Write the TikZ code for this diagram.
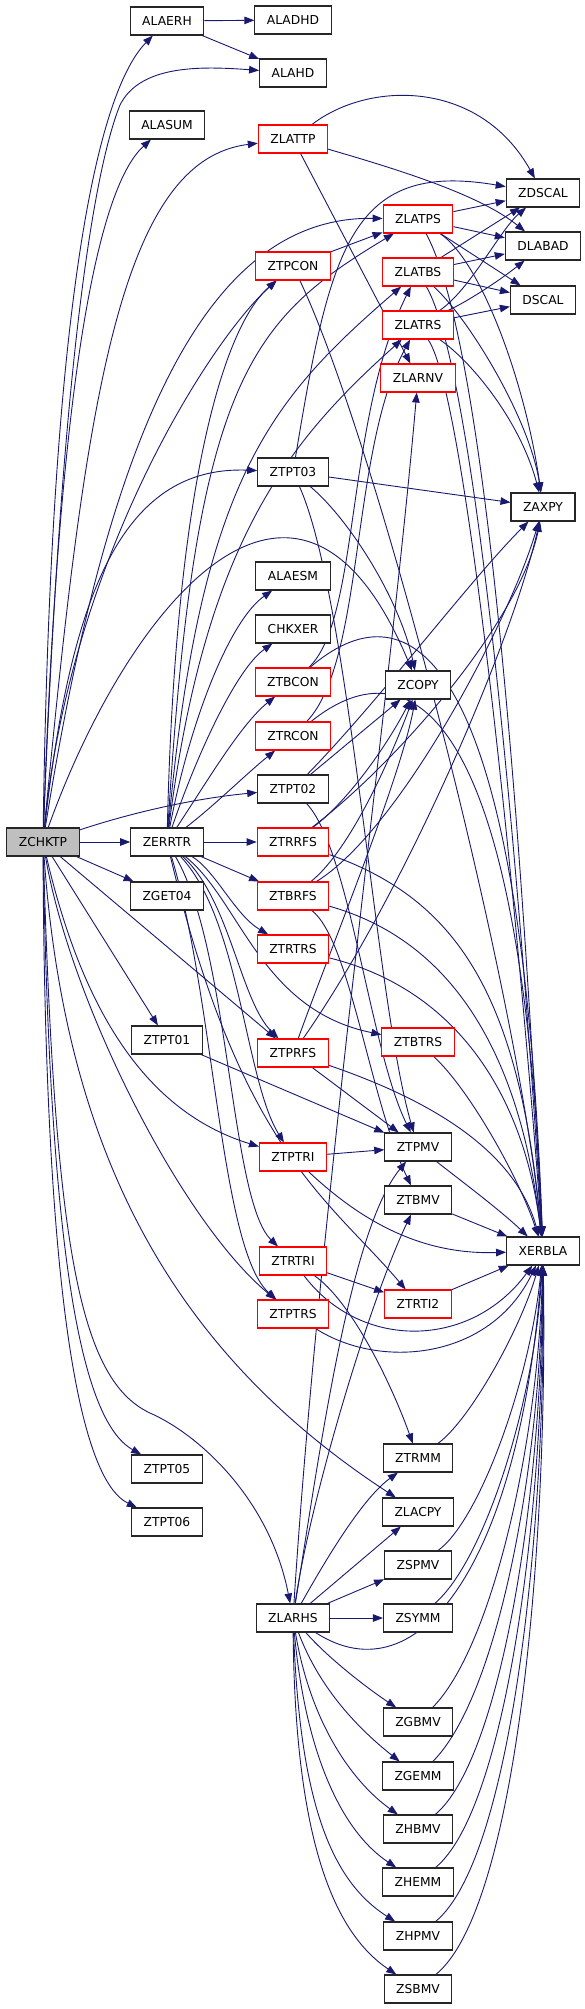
\documentclass[tikz,border=0pt]{standalone}
\usepackage{fontspec}
\setmainfont{DejaVu Sans}
\usetikzlibrary{arrows.meta,backgrounds}
\definecolor{edgec}{HTML}{191970}
\tikzset{
  bx/.style={draw=black!85, line width=1.1pt, fill=white, minimum height=28pt, inner xsep=12pt, inner ysep=0pt, font=\fontsize{12.3}{14}\selectfont},
  rbx/.style={bx, draw=red},
  e/.style={draw=edgec, line width=0.9pt, -{Triangle[length=10pt,width=7.5pt]}},
}
\begin{document}
\begin{tikzpicture}[x=1pt,y=-1pt]
\useasboundingbox (0,0) rectangle (584,2009);
% column 1
\node[bx, fill=gray!50] (ZCHKTP) at (43,842) {ZCHKTP};
% column 2
\node[bx] (ALAERH) at (167,21) {ALAERH};
\node[bx] (ALASUM) at (167,125) {ALASUM};
\node[bx] (ZERRTR) at (167,842) {ZERRTR};
\node[bx] (ZGET04) at (167,896) {ZGET04};
\node[bx] (ZTPT01) at (167,1040) {ZTPT01};
\node[bx] (ZTPT05) at (167,1469) {ZTPT05};
\node[bx] (ZTPT06) at (167,1522) {ZTPT06};
% column 3
\node[bx] (ALADHD) at (293,20) {ALADHD};
\node[bx] (ALAHD) at (293,73) {ALAHD};
\node[rbx] (ZLATTP) at (293,139) {ZLATTP};
\node[rbx] (ZTPCON) at (293,266) {ZTPCON};
\node[bx] (ZTPT03) at (293,472) {ZTPT03};
\node[bx] (ALAESM) at (293,576) {ALAESM};
\node[bx] (CHKXER) at (293,629) {CHKXER};
\node[rbx] (ZTBCON) at (293,682) {ZTBCON};
\node[rbx] (ZTRCON) at (293,736) {ZTRCON};
\node[bx] (ZTPT02) at (293,789) {ZTPT02};
\node[rbx] (ZTRRFS) at (293,842) {ZTRRFS};
\node[rbx] (ZTBRFS) at (293,896) {ZTBRFS};
\node[rbx] (ZTRTRS) at (293,949) {ZTRTRS};
\node[rbx] (ZTPRFS) at (293,1053) {ZTPRFS};
\node[rbx] (ZTPTRI) at (293,1157) {ZTPTRI};
\node[rbx] (ZTRTRI) at (293,1261) {ZTRTRI};
\node[rbx] (ZTPTRS) at (293,1314) {ZTPTRS};
\node[bx] (ZLARHS) at (293,1618) {ZLARHS};
% column 4
\node[rbx] (ZLATPS) at (418,219) {ZLATPS};
\node[rbx] (ZLATBS) at (418,272) {ZLATBS};
\node[rbx] (ZLATRS) at (418,325) {ZLATRS};
\node[rbx] (ZLARNV) at (418,378) {ZLARNV};
\node[bx] (ZCOPY) at (418,685) {ZCOPY};
\node[rbx] (ZTBTRS) at (418,1042) {ZTBTRS};
\node[bx] (ZTPMV) at (418,1147) {ZTPMV};
\node[bx] (ZTBMV) at (418,1200) {ZTBMV};
\node[rbx] (ZTRTI2) at (418,1304) {ZTRTI2};
\node[bx] (ZTRMM) at (418,1458) {ZTRMM};
\node[bx] (ZLACPY) at (418,1512) {ZLACPY};
\node[bx] (ZSPMV) at (418,1565) {ZSPMV};
\node[bx] (ZSYMM) at (418,1618) {ZSYMM};
\node[bx] (ZGBMV) at (418,1722) {ZGBMV};
\node[bx] (ZGEMM) at (418,1776) {ZGEMM};
\node[bx] (ZHBMV) at (418,1829) {ZHBMV};
\node[bx] (ZHEMM) at (418,1882) {ZHEMM};
\node[bx] (ZHPMV) at (418,1936) {ZHPMV};
\node[bx] (ZSBMV) at (418,1989) {ZSBMV};
% column 5
\node[bx] (ZDSCAL) at (543,193) {ZDSCAL};
\node[bx] (DLABAD) at (543,246) {DLABAD};
\node[bx] (DSCAL) at (543,300) {DSCAL};
\node[bx] (ZAXPY) at (543,507) {ZAXPY};
\node[bx] (XERBLA) at (543,1251) {XERBLA};

\begin{scope}[on background layer]
% ZCHKTP
\draw[e] (ZCHKTP) .. controls (50,350) and (90,100) .. (ALAERH);
\draw[e] (ZCHKTP) .. controls (60,400) and (90,180) .. (120,105) .. controls (140,65) and (200,66) .. (ALAHD);
\draw[e] (ZCHKTP) .. controls (58,400) and (95,190) .. (ALASUM);
\draw[e] (ZCHKTP) .. controls (85,400) and (120,160) .. (ZLATTP);
\draw[e] (ZCHKTP) .. controls (110,420) and (210,216) .. (ZLATPS);
\draw[e] (ZCHKTP) .. controls (70,560) and (210,340) .. (ZTPCON);
\draw[e] (ZCHKTP) .. controls (70,600) and (120,465) .. (ZTPT03);
\draw[e] (ZCHKTP) .. controls (130,600) and (300,400) .. (ZCOPY);
\draw[e] (ZCHKTP) .. controls (140,810) and (200,798) .. (ZTPT02);
\draw[e] (ZCHKTP) -- (ZERRTR);
\draw[e] (ZCHKTP) -- (ZGET04);
\draw[e] (ZCHKTP) -- (ZTPT01);
\draw[e] (ZCHKTP) -- (ZTPRFS);
\draw[e] (ZCHKTP) .. controls (80,1000) and (140,1110) .. (ZTPTRI);
\draw[e] (ZCHKTP) .. controls (70,1000) and (180,1220) .. (ZTPTRS);
\draw[e] (ZCHKTP) .. controls (65,1150) and (170,1350) .. (ZLACPY);
\draw[e] (ZCHKTP) .. controls (50,1250) and (80,1420) .. (ZTPT05);
\draw[e] (ZCHKTP) .. controls (45,1300) and (80,1480) .. (ZTPT06);
\draw[e] (ZCHKTP) .. controls (55,1250) and (80,1380) .. (150,1413) .. controls (200,1435) and (270,1500) .. (ZLARHS);
% ALAERH
\draw[e] (ALAERH) -- (ALADHD);
\draw[e] (ALAERH) -- (ALAHD);
% ZERRTR
\draw[e] (ZERRTR) .. controls (190,720) and (230,620) .. (ALAESM);
\draw[e] (ZERRTR) .. controls (195,760) and (235,670) .. (CHKXER);
\draw[e] (ZERRTR) .. controls (205,785) and (240,725) .. (ZTBCON);
\draw[e] (ZERRTR) .. controls (215,805) and (245,775) .. (ZTRCON);
\draw[e] (ZERRTR) -- (ZTRRFS);
\draw[e] (ZERRTR) .. controls (175,500) and (220,330) .. (ZTPCON);
\draw[e] (ZERRTR) .. controls (195,380) and (250,320) .. (ZLATPS);
\draw[e] (ZERRTR) .. controls (200,480) and (270,400) .. (ZLATBS);
\draw[e] (ZERRTR) .. controls (205,540) and (290,440) .. (ZLATRS);
\draw[e] (ZERRTR) -- (ZTBRFS);
\draw[e] (ZERRTR) .. controls (215,870) and (235,915) .. (ZTRTRS);
\draw[e] (ZERRTR) .. controls (240,900) and (260,1010) .. (ZTBTRS);
\draw[e] (ZERRTR) .. controls (230,900) and (240,1000) .. (ZTPRFS);
\draw[e] (ZERRTR) .. controls (240,920) and (245,1080) .. (ZTPTRI);
\draw[e] (ZERRTR) .. controls (230,950) and (230,1200) .. (ZTRTRI);
\draw[e] (ZERRTR) .. controls (215,1000) and (220,1250) .. (ZTPTRS);
\draw[e] (ZERRTR) .. controls (240,1150) and (330,1200) .. (ZTRTI2);
% ZLATTP
\draw[e] (ZLATTP) .. controls (370,80) and (480,80) .. (ZDSCAL);
\draw[e] (ZLATTP) .. controls (400,170) and (480,195) .. (DLABAD);
\draw[e] (ZLATTP) -- (ZLARNV);
% ZTPCON, ZTBCON, ZTRCON
\draw[e] (ZTPCON) -- (ZLATPS);
\draw[e] (ZTPCON) .. controls (380,450) and (520,1000) .. (XERBLA);
\draw[e] (ZTBCON) .. controls (360,620) and (345,420) .. (ZLATBS);
\draw[e] (ZTBCON) .. controls (400,590) and (520,620) .. (XERBLA);
\draw[e] (ZTRCON) .. controls (365,660) and (350,450) .. (ZLATRS);
\draw[e] (ZTRCON) .. controls (400,650) and (520,680) .. (XERBLA);
% ZLATPS, ZLATBS, ZLATRS
\draw[e] (ZLATPS) -- (ZDSCAL);
\draw[e] (ZLATPS) -- (DLABAD);
\draw[e] (ZLATPS) -- (DSCAL);
\draw[e] (ZLATPS) .. controls (480,260) and (525,380) .. (ZAXPY);
\draw[e] (ZLATPS) .. controls (490,350) and (525,900) .. (XERBLA);
\draw[e] (ZLATBS) -- (ZDSCAL);
\draw[e] (ZLATBS) -- (DLABAD);
\draw[e] (ZLATBS) -- (DSCAL);
\draw[e] (ZLATBS) .. controls (470,320) and (530,420) .. (ZAXPY);
\draw[e] (ZLATBS) .. controls (480,380) and (525,950) .. (XERBLA);
\draw[e] (ZLATRS) .. controls (470,290) and (500,230) .. (ZDSCAL);
\draw[e] (ZLATRS) .. controls (470,300) and (500,280) .. (DLABAD);
\draw[e] (ZLATRS) -- (DSCAL);
\draw[e] (ZLATRS) .. controls (470,360) and (520,420) .. (ZAXPY);
\draw[e] (ZLATRS) .. controls (470,400) and (525,1000) .. (XERBLA);
% ZTPT03
\draw[e] (ZTPT03) .. controls (330,250) and (350,160) .. (ZDSCAL);
\draw[e] (ZTPT03) -- (ZAXPY);
\draw[e] (ZTPT03) .. controls (350,520) and (400,600) .. (ZCOPY);
\draw[e] (ZTPT03) .. controls (350,600) and (375,1000) .. (ZTPMV);
% ZTPT02
\draw[e] (ZTPT02) -- (ZCOPY);
\draw[e] (ZTPT02) .. controls (380,700) and (470,580) .. (ZAXPY);
\draw[e] (ZTPT02) .. controls (350,850) and (370,1050) .. (ZTPMV);
% ZTRRFS
\draw[e] (ZTRRFS) .. controls (350,800) and (390,740) .. (ZCOPY);
\draw[e] (ZTRRFS) .. controls (400,760) and (520,620) .. (ZAXPY);
\draw[e] (ZTRRFS) .. controls (460,900) and (520,1000) .. (XERBLA);
% ZTBRFS
\draw[e] (ZTBRFS) .. controls (350,850) and (390,760) .. (ZCOPY);
\draw[e] (ZTBRFS) .. controls (400,830) and (510,620) .. (ZAXPY);
\draw[e] (ZTBRFS) .. controls (350,940) and (370,1100) .. (ZTBMV);
\draw[e] (ZTBRFS) .. controls (450,940) and (520,1050) .. (XERBLA);
% ZTRTRS
\draw[e] (ZTRTRS) .. controls (460,990) and (525,1100) .. (XERBLA);
% ZTPRFS
\draw[e] (ZTPRFS) .. controls (330,950) and (400,780) .. (ZCOPY);
\draw[e] (ZTPRFS) .. controls (400,900) and (510,650) .. (ZAXPY);
\draw[e] (ZTPRFS) -- (ZTPMV);
\draw[e] (ZTPRFS) .. controls (430,1100) and (515,1150) .. (XERBLA);
% ZTBTRS
\draw[e] (ZTBTRS) .. controls (470,1090) and (520,1180) .. (XERBLA);
% ZTPT01
\draw[e] (ZTPT01) -- (ZTPMV);
% ZTPTRI, ZTRTRI, ZTRTI2, ZTPTRS
\draw[e] (ZTPTRI) -- (ZTPMV);
\draw[e] (ZTPTRI) .. controls (360,1220) and (420,1255) .. (XERBLA);
\draw[e] (ZTRTRI) -- (ZTRTI2);
\draw[e] (ZTRTRI) .. controls (350,1300) and (390,1380) .. (ZTRMM);
\draw[e] (ZTRTRI) .. controls (360,1350) and (470,1350) .. (XERBLA);
\draw[e] (ZTRTI2) -- (XERBLA);
\draw[e] (ZTPTRS) .. controls (380,1370) and (490,1360) .. (XERBLA);
% ZTPMV, ZTBMV
\draw[e] (ZTPMV) .. controls (460,1180) and (500,1210) .. (XERBLA);
\draw[e] (ZTBMV) -- (XERBLA);
% ZLARHS
\draw[e] (ZLARHS) .. controls (320,1200) and (390,700) .. (ZLARNV);
\draw[e] (ZLARHS) .. controls (320,1450) and (350,1230) .. (ZTPMV);
\draw[e] (ZLARHS) .. controls (310,1500) and (370,1300) .. (ZTBMV);
\draw[e] (ZLARHS) .. controls (320,1570) and (360,1500) .. (ZTRMM);
\draw[e] (ZLARHS) -- (ZLACPY);
\draw[e] (ZLARHS) -- (ZSPMV);
\draw[e] (ZLARHS) -- (ZSYMM);
\draw[e] (ZLARHS) .. controls (420,1700) and (520,1560) .. (XERBLA);
\draw[e] (ZLARHS) .. controls (330,1660) and (370,1690) .. (ZGBMV);
\draw[e] (ZLARHS) .. controls (320,1690) and (360,1730) .. (ZGEMM);
\draw[e] (ZLARHS) .. controls (310,1720) and (350,1780) .. (ZHBMV);
\draw[e] (ZLARHS) .. controls (305,1750) and (340,1830) .. (ZHEMM);
\draw[e] (ZLARHS) .. controls (300,1800) and (330,1880) .. (ZHPMV);
\draw[e] (ZLARHS) .. controls (295,1830) and (330,1930) .. (ZSBMV);
% leaves to XERBLA
\draw[e] (ZTRMM) .. controls (470,1420) and (520,1330) .. (XERBLA);
\draw[e] (ZSPMV) .. controls (480,1520) and (530,1380) .. (XERBLA);
\draw[e] (ZSYMM) .. controls (485,1560) and (535,1400) .. (XERBLA);
\draw[e] (ZGBMV) .. controls (490,1650) and (538,1450) .. (XERBLA);
\draw[e] (ZGEMM) .. controls (495,1700) and (540,1480) .. (XERBLA);
\draw[e] (ZHBMV) .. controls (500,1760) and (542,1500) .. (XERBLA);
\draw[e] (ZHEMM) .. controls (505,1810) and (544,1520) .. (XERBLA);
\draw[e] (ZHPMV) .. controls (510,1860) and (546,1540) .. (XERBLA);
\draw[e] (ZSBMV) .. controls (515,1910) and (548,1560) .. (XERBLA);
\end{scope}
\end{tikzpicture}
\end{document}
